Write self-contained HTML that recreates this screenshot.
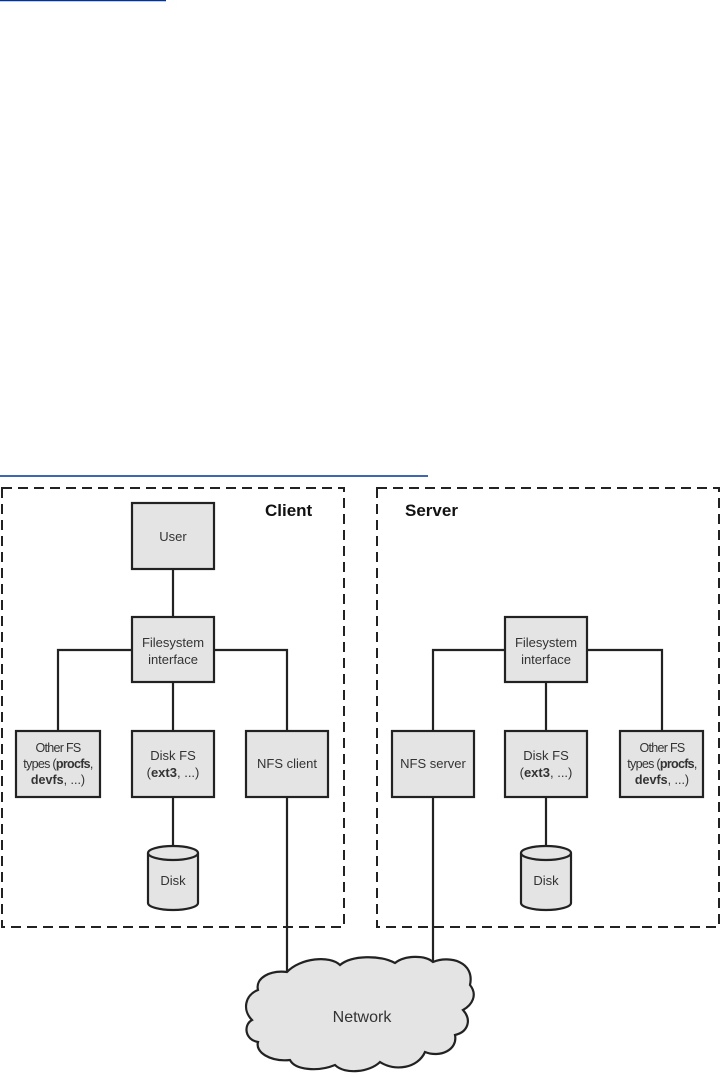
<!DOCTYPE html>
<html><head><style>
html,body{margin:0;padding:0;background:#fff;}
body{width:721px;height:1077px;position:relative;overflow:hidden;font-family:"Liberation Sans",sans-serif;}
</style></head><body>
<svg width="721" height="1077" style="position:absolute;left:0;top:0" font-family="Liberation Sans, sans-serif">
<line x1="0" y1="0.5" x2="166" y2="0.5" stroke="#003399" stroke-width="1.5"/>
<line x1="0" y1="476" x2="428" y2="476" stroke="#003399" stroke-width="1.5"/>
<g fill="none" stroke="#222" stroke-width="2" stroke-dasharray="10,6">
<rect x="2" y="488" width="342" height="439"/>
<rect x="377" y="488" width="342" height="439"/>
</g>
<text x="265" y="516" font-size="17" font-weight="bold" fill="#111">Client</text>
<text x="405" y="516" font-size="17" font-weight="bold" fill="#111">Server</text>
<g stroke="#222" stroke-width="2.2" fill="none">
<line x1="173" y1="569" x2="173" y2="617"/>
<polyline points="58,731 58,650 287,650 287,731"/>
<line x1="173" y1="682" x2="173" y2="731"/>
<line x1="173" y1="797" x2="173" y2="847"/>
<line x1="287" y1="797" x2="287" y2="972"/>
<polyline points="433,731 433,650 662,650 662,731"/>
<line x1="546" y1="682" x2="546" y2="731"/>
<line x1="546" y1="797" x2="546" y2="847"/>
<line x1="433" y1="797" x2="433" y2="962"/>
</g>
<g fill="#e4e4e4" stroke="#222" stroke-width="2.2">
<rect x="132" y="503" width="82" height="66"/>
<rect x="132" y="617" width="82" height="65"/>
<rect x="16" y="731" width="84" height="66"/>
<rect x="132" y="731" width="82" height="66"/>
<rect x="246" y="731" width="82" height="66"/>
<rect x="505" y="617" width="82" height="65"/>
<rect x="392" y="731" width="82" height="66"/>
<rect x="505" y="731" width="82" height="66"/>
<rect x="620" y="731" width="83" height="66"/>
<path d="M148,853 L148,903 A25,7 0 0 0 198,903 L198,853"/>
<ellipse cx="173" cy="853" rx="25" ry="7"/>
<path d="M521,853 L521,903 A25,7 0 0 0 571,903 L571,853"/>
<ellipse cx="546" cy="853" rx="25" ry="7"/>
<path d="M287,972 C300,958 330,955 340,965 C352,955 380,955 395,963 C405,955 425,955 433,962 C450,955 475,962 470,985 C478,995 472,1005 463,1010 C472,1020 468,1032 455,1035 C458,1050 440,1058 425,1052 C418,1068 395,1072 380,1062 C370,1072 345,1075 335,1065 C318,1072 295,1070 290,1060 C270,1062 255,1052 258,1042 C245,1040 243,1025 252,1020 C242,1010 245,995 258,990 C255,978 270,970 287,972 Z"/>
</g>
<g font-size="13" fill="#333" text-anchor="middle">
<text x="173" y="541">User</text>
<text x="173" y="647">Filesystem</text>
<text x="173" y="664">interface</text>
<text x="546" y="647">Filesystem</text>
<text x="546" y="664">interface</text>
<text x="58" y="752" letter-spacing="-0.7" font-size="12.5">Other FS</text>
<text x="58" y="768" letter-spacing="-0.7" font-size="12.5">types (<tspan font-weight="bold">procfs</tspan>,</text>
<text x="58" y="784" font-size="12.5"><tspan font-weight="bold">devfs</tspan>, ...)</text>
<text x="173" y="760">Disk FS</text>
<text x="173" y="777">(<tspan font-weight="bold">ext3</tspan>, ...)</text>
<text x="287" y="768">NFS client</text>
<text x="433" y="768">NFS server</text>
<text x="546" y="760">Disk FS</text>
<text x="546" y="777">(<tspan font-weight="bold">ext3</tspan>, ...)</text>
<text x="662" y="752" letter-spacing="-0.7" font-size="12.5">Other FS</text>
<text x="662" y="768" letter-spacing="-0.7" font-size="12.5">types (<tspan font-weight="bold">procfs</tspan>,</text>
<text x="662" y="784" font-size="12.5"><tspan font-weight="bold">devfs</tspan>, ...)</text>
<text x="173" y="885">Disk</text>
<text x="546" y="885">Disk</text>
<text x="362" y="1022" font-size="16">Network</text>
</g>
</svg>
</body></html>
